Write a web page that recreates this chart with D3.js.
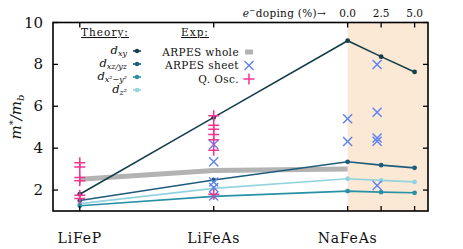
<!DOCTYPE html>
<meta charset="utf-8">
<style>
body { margin: 0; background: #fff; }
svg { display: block; }
svg text { font-family: "DejaVu Serif", serif; fill: #111; }
.frame { fill: none; stroke: #000; stroke-width: 1.6px; }
.tick { stroke: #000; stroke-width: 1.3px; }
.theory path { fill: none; stroke-width: 1.6px; }
.whole { fill: none; stroke: #b3b3b3; stroke-width: 5px; }
.sheet path { stroke: #5c82f2; stroke-width: 1.4px; fill: none; }
.qosc path { stroke: #f2348f; stroke-width: 1.5px; fill: none; }
</style>

<svg id="chart" width="463" height="249"></svg>

<script src="https://d3js.org/d3.v7.min.js"></script>
<script>
// compounds on the x axis, then electron doping of NaFeAs
var compounds = ["LiFeP", "LiFeAs", "NaFeAs"];
var doping = [0.0, 2.5, 5.0];
var yTicks = [2, 4, 6, 8, 10];

// theory: LiFeP, LiFeAs, NaFeAs 0%, 2.5%, 5.0%
var theoryNames = ["d_xy", "d_xz/yz", "d_x2-y2", "d_z2"];
var dxy   = [1.80, 5.47, 9.13, 8.37, 7.64];
var dxzyz = [1.50, 2.48, 3.35, 3.19, 3.06];
var dx2y2 = [1.25, 1.70, 1.95, 1.90, 1.87];
var dz2   = [1.35, 2.08, 2.54, 2.46, 2.39];

// ARPES whole, one per compound
var arpesWhole = [2.52, 2.93, 3.00];

// ARPES sheet: [compound index, doping %, m*/mb]
var arpesSheet = [
    [1, 0, 4.18], [1, 0, 3.35], [1, 0, 2.38], [1, 0, 2.12], [1, 0, 1.72],
    [2, 0, 5.40], [2, 0, 4.32],
    [2, 2.2, 7.99], [2, 2.2, 5.71], [2, 2.2, 4.49], [2, 2.2, 4.33], [2, 2.2, 2.22]
];

// quantum oscillations: [compound index, m*/mb]
var qOsc = [
    [0, 3.30], [0, 3.10], [0, 2.60], [0, 2.45], [0, 1.75], [0, 1.60],
    [1, 5.55], [1, 5.10], [1, 4.90], [1, 4.65], [1, 4.40], [1, 3.90], [1, 1.80]
];

var theoryColors = ["#163f4c", "#1d5c7c", "#2990a6", "#93d3df"];

var svg = d3.select("#chart");
var pLeft = 53, pRight = 428, pTop = 22.5, pBottom = 211;

// position of a compound, shifted by doping in %
function pos(ci, dop) { return ci + (dop || 0) / 10; }

var x = d3.scaleLinear().domain([-0.2, 2.6]).range([pLeft, pRight]);
var y = d3.scaleLinear().domain([1, 10]).range([pBottom, pTop]);

// shaded doping region
svg.append("rect")
   .attr("x", x(2)).attr("y", pTop)
   .attr("width", pRight - x(2)).attr("height", pBottom - pTop)
   .attr("fill", "#fbe9d5");

var theoryX = [pos(0), pos(1), pos(2, doping[0]), pos(2, doping[1]), pos(2, doping[2])];
var theory = [dxy, dxzyz, dx2y2, dz2];

// ARPES whole (grey band)
svg.append("path")
   .attr("class", "whole")
   .attr("d", d3.line()
       .x(function(d, i) { return x(pos(i)); })
       .y(function(d) { return y(d); })(arpesWhole));

var line = d3.line()
    .x(function(d, i) { return x(theoryX[i]); })
    .y(function(d) { return y(d); });

var tg = svg.append("g").attr("class", "theory");
[3, 2, 1, 0].forEach(function(k) {
    tg.append("path").attr("d", line(theory[k])).attr("stroke", theoryColors[k]);
    tg.selectAll(null)
      .data(theory[k])
      .enter().append("circle")
      .attr("cx", function(d, i) { return x(theoryX[i]); })
      .attr("cy", function(d) { return y(d); })
      .attr("r", 2.4)
      .attr("fill", theoryColors[k]);
});

function cross(cx, cy, s) {
    return "M" + (cx - s) + "," + (cy - s) + "L" + (cx + s) + "," + (cy + s) +
           "M" + (cx - s) + "," + (cy + s) + "L" + (cx + s) + "," + (cy - s);
}
function plus(cx, cy, s) {
    return "M" + (cx - s) + "," + cy + "L" + (cx + s) + "," + cy +
           "M" + cx + "," + (cy - s) + "L" + cx + "," + (cy + s);
}

svg.append("g").attr("class", "sheet")
   .selectAll("path")
   .data(arpesSheet)
   .enter().append("path")
   .attr("d", function(d) { return cross(x(pos(d[0], d[1])), y(d[2]), 4.5); });

svg.append("g").attr("class", "qosc")
   .selectAll("path")
   .data(qOsc)
   .enter().append("path")
   .attr("d", function(d) { return plus(x(pos(d[0])), y(d[1]), 5.5); });

// frame and ticks
svg.append("rect").attr("class", "frame")
   .attr("x", pLeft).attr("y", pTop).attr("width", pRight - pLeft).attr("height", pBottom - pTop);

var ticks = svg.append("g");
var tl = 5;
yTicks.forEach(function(v) {
    ticks.append("line").attr("class", "tick")
         .attr("x1", pLeft).attr("x2", pLeft + tl).attr("y1", y(v)).attr("y2", y(v));
    ticks.append("line").attr("class", "tick")
         .attr("x1", pRight).attr("x2", pRight - tl).attr("y1", y(v)).attr("y2", y(v));
});
var xTickPos = [pos(0), pos(1)].concat(doping.map(function(d) { return pos(2, d); }));
xTickPos.forEach(function(v) {
    ticks.append("line").attr("class", "tick")
         .attr("x1", x(v)).attr("x2", x(v)).attr("y1", pBottom).attr("y2", pBottom - tl);
    ticks.append("line").attr("class", "tick")
         .attr("x1", x(v)).attr("x2", x(v)).attr("y1", pTop).attr("y2", pTop + tl);
});

svg.append("g").selectAll("text")
   .data(yTicks)
   .enter().append("text")
   .attr("x", pLeft - 10).attr("y", function(d) { return y(d) + 5; })
   .attr("text-anchor", "end").attr("font-size", 15)
   .text(function(d) { return d; });

svg.append("g").selectAll("text")
   .data(compounds)
   .enter().append("text")
   .attr("x", function(d, i) { return x(pos(i)); }).attr("y", 243)
   .attr("text-anchor", "middle").attr("font-size", 14).attr("letter-spacing", 0.8)
   .text(function(d) { return d; });

svg.append("g").selectAll("text")
   .data(doping)
   .enter().append("text")
   .attr("x", function(d) { return x(pos(2, d)); }).attr("y", 17)
   .attr("text-anchor", "middle").attr("font-size", 10.5)
   .text(function(d) { return d.toFixed(1); });

var dop = svg.append("text").attr("x", 326).attr("y", 17)
   .attr("text-anchor", "end").attr("font-size", 10.5).attr("letter-spacing", 0.3);
dop.append("tspan").attr("font-style", "italic").text("e");
dop.append("tspan").attr("dy", -4).attr("font-size", 7.5).text("−");
dop.append("tspan").attr("dy", 4).text("doping (%)→");

// y label
var yl = svg.append("text")
   .attr("transform", "translate(21,117) rotate(-90)")
   .attr("text-anchor", "middle").attr("font-size", 15).attr("font-style", "italic");
yl.append("tspan").text("m");
yl.append("tspan").attr("dy", -5).attr("font-size", 10).text("*");
yl.append("tspan").attr("dy", 5).text("/m");
yl.append("tspan").attr("dy", 3).attr("font-size", 10).text("b");

// legend
var lg = svg.append("g").attr("font-size", 10.5).attr("letter-spacing", 0.4);
lg.append("text").attr("x", 105).attr("y", 36).attr("text-anchor", "middle")
  .attr("text-decoration", "underline").attr("letter-spacing", 1).text("Theory:");
lg.append("text").attr("x", 195).attr("y", 36).attr("text-anchor", "middle")
  .attr("text-decoration", "underline").attr("letter-spacing", 1).text("Exp:");

var subs = ["xy", "xz/yz", "x²−y²", "z²"];
var rowY = [51, 64, 77, 90];
theoryNames.forEach(function(n, i) {
    var t = lg.append("text").attr("x", 127).attr("y", rowY[i] + 2.5)
              .attr("text-anchor", "end").attr("font-size", 11.5).attr("letter-spacing", 0)
              .attr("font-style", "italic");
    t.append("tspan").text("d");
    t.append("tspan").attr("dy", 2).attr("font-size", 8).text(subs[i]);
    lg.append("line").attr("x1", 133).attr("x2", 141).attr("y1", rowY[i]).attr("y2", rowY[i])
      .attr("stroke", theoryColors[i]).attr("stroke-width", 1.6);
    lg.append("circle").attr("cx", 137).attr("cy", rowY[i]).attr("r", 2.2).attr("fill", theoryColors[i]);
});

var expNames = ["ARPES whole", "ARPES sheet", "Q. Osc."];
var expY = [52, 65.5, 79];
expNames.forEach(function(n, i) {
    lg.append("text").attr("x", 239).attr("y", expY[i] + 3.5).attr("text-anchor", "end").text(n);
});
lg.append("line").attr("x1", 245).attr("x2", 253).attr("y1", expY[0]).attr("y2", expY[0])
  .attr("class", "whole").attr("stroke-width", 4);
lg.append("path").attr("d", cross(249, expY[1], 4.5)).attr("stroke", "#5c82f2").attr("stroke-width", 1.4);
lg.append("path").attr("d", plus(249, expY[2], 5.5)).attr("stroke", "#f2348f").attr("stroke-width", 1.5);
</script>
